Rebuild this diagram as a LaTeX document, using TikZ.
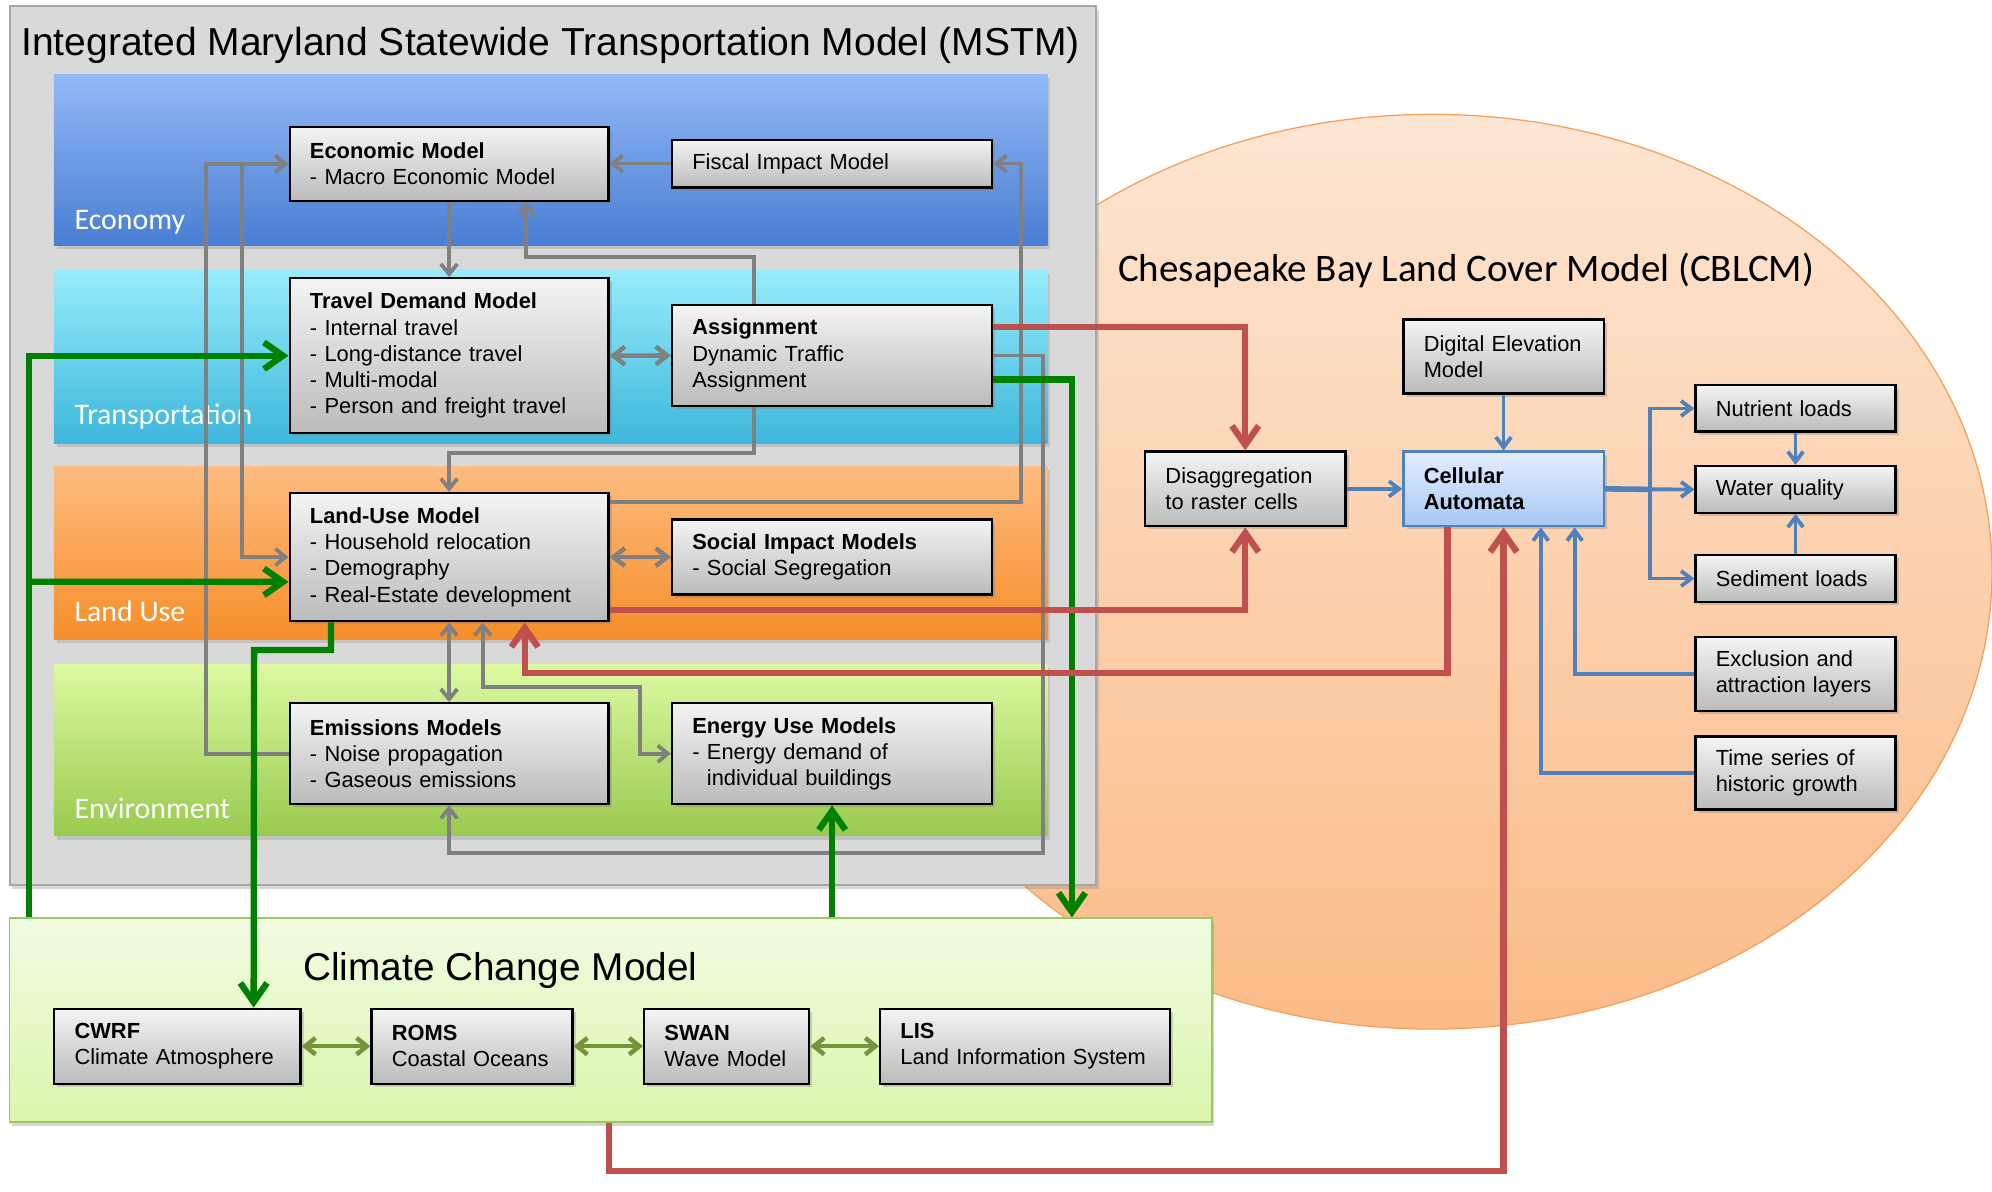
\documentclass[tikz,border=0pt]{standalone}
\usepackage{fontspec}
\setmainfont{Liberation Sans}
\newfontfamily\calibri{Carlito}
\usetikzlibrary{arrows.meta,shadows,calc}
\definecolor{arrgray}{HTML}{808080}
\definecolor{grnline}{RGB}{0,128,0}
\definecolor{redline}{HTML}{C0504D}
\definecolor{bluline}{HTML}{4F81BD}
\definecolor{oliline}{HTML}{77933C}
\definecolor{boxtop}{HTML}{F4F4F4}
\definecolor{boxbot}{HTML}{BBBBBB}
\definecolor{catop}{HTML}{E4EEFF}
\definecolor{cabot}{HTML}{A8C7F4}
\definecolor{ecotop}{HTML}{93B9F8}
\definecolor{ecobot}{HTML}{4A7ED3}
\definecolor{trtop}{HTML}{97ECFB}
\definecolor{trbot}{HTML}{3DB7DB}
\definecolor{lutop}{HTML}{FDBC80}
\definecolor{lubot}{HTML}{F68E2A}
\definecolor{envtop}{HTML}{DDF9A2}
\definecolor{envbot}{HTML}{99CA4E}
\definecolor{mstmfill}{HTML}{D9D9D9}
\definecolor{mstmdraw}{HTML}{A6A6A6}
\definecolor{elltop}{HTML}{FDE6D3}
\definecolor{ellbot}{HTML}{FBBB88}
\definecolor{elldraw}{HTML}{F5A05A}
\definecolor{cltop}{HTML}{F1FBE2}
\definecolor{clbot}{HTML}{DBF6AC}
\definecolor{cldraw}{HTML}{9FC463}

\newcommand\mkbox[7][]{%
  \pgfmathsetmacro\mybw{#5-#3}%
  \pgfmathsetmacro\mybh{#6-#4}%
  \pgfmathsetmacro\mytw{#5-#3-32}%
  \node[box,#1,minimum width=\mybw pt,minimum height=\mybh pt,text width=\mytw pt] (#2) at ({(#3+#5)/2},{(#4+#6)/2}) {#7};%
}

\begin{document}
\begin{tikzpicture}[x=1pt,y=-1pt,
  GTip/.tip={Straight Barb[length=8pt,width=13pt]},
  GTipL/.tip={Straight Barb[length=9pt,width=14pt]},
  BigTip/.tip={Straight Barb[length=15pt,width=21pt]},
  BTip/.tip={Straight Barb[length=8pt,width=12pt]},
  OTip/.tip={Straight Barb[length=8pt,width=13pt]},
  box/.style={draw=black, line width=1.8pt, top color=boxtop, bottom color=boxbot,
    drop shadow={shadow xshift=2.5pt,shadow yshift=-2.5pt,opacity=0.35},
    align=left, inner xsep=16pt, inner ysep=1pt, text=black,
    font=\fontsize{17.2}{20.7}\selectfont},
  cabox/.style={draw=bluline, top color=catop, bottom color=cabot},
  band/.style={drop shadow={shadow xshift=2pt,shadow yshift=-3pt,opacity=0.25}},
  bandlabel/.style={anchor=base west, inner sep=0pt, text=white, font=\calibri\fontsize{23.5}{28}\selectfont},
  garr/.style={draw=arrgray, line width=3pt, -GTip},
  grnarr/.style={draw=grnline, line width=5pt, -BigTip},
  redarr/.style={draw=redline, line width=5pt, -BigTip},
  bluarr/.style={draw=bluline, line width=3pt, -BTip},
  oliarr/.style={draw=oliline, line width=3.6pt, OTip-OTip}
]
\useasboundingbox (0,0) rectangle (1568,938);
\fill[white] (0,0) rectangle (1568,938);

% CBLCM ellipse
\draw[draw=elldraw, line width=1pt, top color=elltop, bottom color=ellbot]
  (1127,450) ellipse [x radius=441, y radius=360];

% MSTM container
\node[draw=mstmdraw, fill=mstmfill, line width=1.5pt, minimum width=855.3pt, minimum height=691.9pt,
  drop shadow={shadow xshift=2pt,shadow yshift=-3pt,opacity=0.3}, inner sep=0pt] (mstm) at (435.35,350.65) {};

% bands
\fill[band, top color=ecotop, bottom color=ecobot] (42.5,58.3) rectangle (824.4,192.9);
\fill[band, top color=trtop, bottom color=trbot] (42.5,213) rectangle (824.4,349);
\fill[band, top color=lutop, bottom color=lubot] (42.5,367.3) rectangle (824.4,503);
\fill[band, top color=envtop, bottom color=envbot] (42.5,522.7) rectangle (824.4,658);
\node[bandlabel] (lbeco) at (58.5,180.5) {Economy};
\node[bandlabel] (lbtr) at (58.5,334.5) {Transportation};
\node[bandlabel] (lblu) at (58.5,489.3) {Land Use};
\node[bandlabel] (lbenv) at (58.5,644) {Environment};

% climate container
\node[draw=cldraw, line width=1.5pt, top color=cltop, bottom color=clbot, minimum width=946.3pt, minimum height=160.5pt,
  drop shadow={shadow xshift=2pt,shadow yshift=-3pt,opacity=0.3}, inner sep=0pt] (climate) at (480.65,803.15) {};

% titles
\node[anchor=base west, inner sep=0pt, font=\fontsize{30.7}{36}\selectfont] (t1) at (16.6,43.3) {Integrated Maryland Statewide Transportation Model (MSTM)};
\node[anchor=base west, inner sep=0pt, font=\calibri\fontsize{30.7}{36}\selectfont] (t2) at (879.9,221.4) {Chesapeake Bay Land Cover Model (CBLCM)};
\node[anchor=base west, inner sep=0pt, font=\fontsize{30.5}{36}\selectfont] (t3) at (238.5,771.4) {Climate Change Model};

% MSTM boxes
\mkbox{econ}{228}{100}{479}{158}{\textbf{Economic Model}\\- Macro Economic Model}
\mkbox{fiscal}{529}{110}{781}{147.5}{Fiscal Impact Model}
\mkbox{travel}{228}{219}{479}{341}{\textbf{Travel Demand Model}\\- Internal travel\\- Long-distance travel\\- Multi-modal\\- Person and freight travel}
\mkbox{assign}{529}{240}{781}{319.6}{\textbf{Assignment}\\Dynamic Traffic\\Assignment}
\mkbox{landuse}{228}{388}{479}{489}{\textbf{Land-Use Model}\\- Household relocation\\- Demography\\- Real-Estate development}
\mkbox{social}{529}{409}{781}{468}{\textbf{Social Impact Models}\\- Social Segregation}
\mkbox{emis}{228}{553.6}{479}{633}{\textbf{Emissions Models}\\- Noise propagation\\- Gaseous emissions}
\mkbox{energy}{529}{553.6}{781}{633}{\textbf{Energy Use Models}\\- Energy demand of\\\phantom{- }individual buildings}

% climate boxes
\mkbox{cwrf}{42.7}{794}{236.6}{853}{\textbf{CWRF}\\Climate Atmosphere}
\mkbox{roms}{292.4}{794}{450.6}{853}{\textbf{ROMS}\\Coastal Oceans}
\mkbox{swan}{507}{794}{637}{853}{\textbf{SWAN}\\Wave Model}
\mkbox{lis}{692.8}{794}{921.2}{853}{\textbf{LIS}\\Land Information System}

% CBLCM boxes
\mkbox{dem}{1104.7}{251.5}{1262.3}{309.7}{Digital Elevation\\Model}
\mkbox{disagg}{901.4}{355.4}{1059}{414.2}{Disaggregation\\to raster cells}
\mkbox[cabox]{ca}{1104.7}{355.4}{1262.3}{414.2}{\textbf{Cellular}\\\textbf{Automata}}
\mkbox{nutr}{1334.6}{303.3}{1492.1}{339.7}{Nutrient loads}
\mkbox{water}{1334.6}{366.9}{1492.1}{403.6}{Water quality}
\mkbox{sed}{1334.6}{437}{1492.1}{473.8}{Sediment loads}
\mkbox{excl}{1334.6}{501.5}{1492.1}{559.6}{Exclusion and\\attraction layers}
\mkbox{time}{1334.6}{579.8}{1492.1}{637.1}{Time series of\\historic growth}

% gray connectors
\draw[garr] (fiscal.west) -- (fiscal.west -| econ.east);
\draw[garr] (econ.south) -- (travel.north);
\draw[garr] ([xshift=-61.4pt]assign.north) |- (414,202) -- ([xshift=60.5pt]econ.south);
\draw[garr] (emis.west) -| (162,300) |- (econ.west);
\draw[garr,GTip-GTip] (econ.west) -| (190.5,300) |- (landuse.west);
\draw[garr,line width=3.6pt,GTipL-GTipL] (travel.east) -- (assign.west);
\draw[garr] ([xshift=-61.4pt]assign.south) |- (353.5,356.8) -- (landuse.north);
\draw[garr] ([yshift=-8pt]landuse.north east) -| (803.4,300) |- (fiscal.east);
\draw[garr,line width=3.6pt,GTipL-GTipL] (landuse.east) -- (social.west);
\draw[garr,GTip-GTip] (landuse.south) -- (emis.north);
\draw[garr,GTip-GTip] ([xshift=26.5pt]landuse.south) |- (504,540.5) |- (energy.west);
\draw[garr] (assign.east) -| (821,671.6) -| (emis.south);

% olive connectors
\draw[oliarr] (cwrf.east) -- (roms.west);
\draw[oliarr] (roms.east) -- (swan.west);
\draw[oliarr] (swan.east) -- (lis.west);

% blue connectors
\coordinate (bj) at (1298.8,385.2);
\draw[bluarr] (dem.south) -- (ca.north);
\draw[bluarr] (disagg.east) -- (ca.west);
\draw[draw=bluline, line width=4.4pt] (ca.east) -- (bj);
\draw[bluarr] (bj) -- (water.west);
\draw[bluarr] (bj) |- (nutr.west);
\draw[bluarr] (bj) |- (sed.west);
\draw[bluarr] (nutr.south) -- (water.north);
\draw[bluarr] (sed.north) -- (water.south);
\draw[bluarr] (excl.west) -| ([xshift=56pt]ca.south);
\draw[bluarr] (time.west) -| ([xshift=29.3pt]ca.south);

% green connectors
\coordinate (gj) at (23.5,457.9);
\draw[grnarr] ([xshift=16pt]climate.north west) |- (travel.west);
\draw[grnarr] (gj) -- ([yshift=-19.5pt]landuse.west);
\draw[grnarr] ([xshift=-93pt]landuse.south) |- (200,511.6) -- ([xshift=60pt]cwrf.north);
\draw[grnarr] ([yshift=-19pt]assign.east) -| ([xshift=837pt]climate.north west);
\draw[grnarr] (climate.north -| energy.south) -- (energy.south);

% red connectors
\draw[redarr] ([yshift=-18.5pt]assign.north east) -| (disagg.north);
\draw[redarr] ([yshift=10pt]landuse.south east) -| (disagg.south);
\draw[redarr] ([xshift=-44pt]ca.south) |- (413,529.5) -- ([xshift=59.5pt]landuse.south);
\draw[redarr] ([xshift=472.5pt]climate.south west) |- (1183.5,921.5) -- (ca.south);
\end{tikzpicture}
\end{document}
